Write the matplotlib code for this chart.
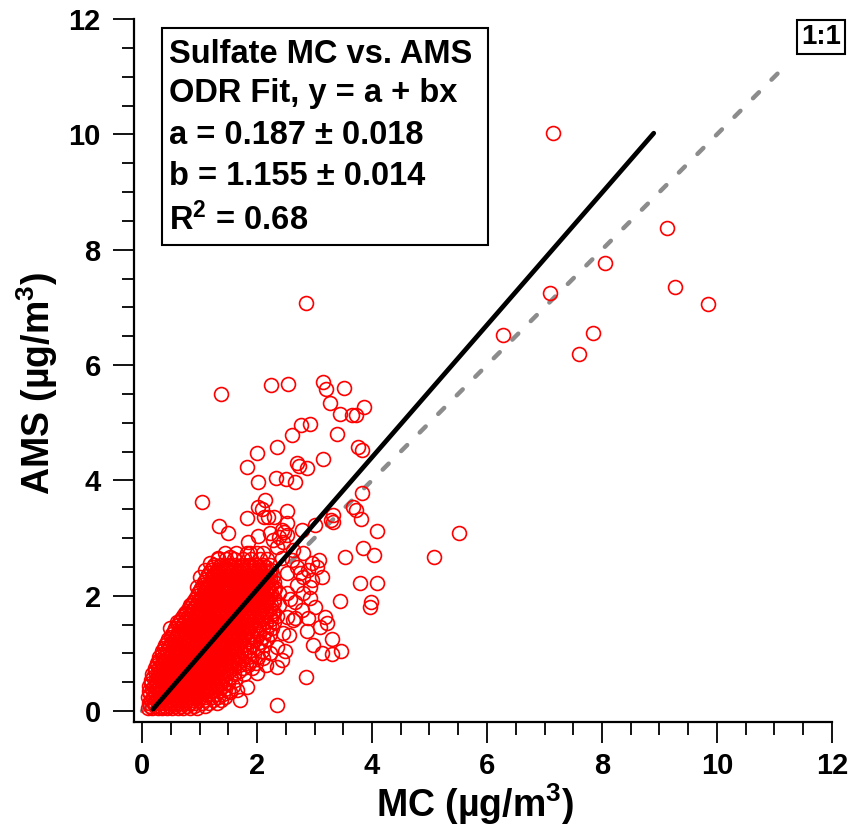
import matplotlib
matplotlib.use("Agg")
import matplotlib.pyplot as plt
from matplotlib.patches import Rectangle
from matplotlib.ticker import MultipleLocator

# dense core of the scatter, read row by row (AMS level -> MC values on that row)
CORE_AMS_ROWS = [0.05, 0.14, 0.24, 0.34, 0.44, 0.54, 0.64, 0.74, 0.84, 0.94,
                 1.04, 1.14, 1.24, 1.34, 1.44, 1.54, 1.64, 1.74, 1.84, 1.94,
                 2.04, 2.14, 2.24, 2.34, 2.44, 2.54, 2.64, 2.74]
CORE_MC_ROWS = [
    [0.10, 0.18, 0.27, 0.35, 0.44, 0.53, 0.62, 0.72, 0.83, 0.95],
    [0.12, 0.21, 0.30, 0.38, 0.47, 0.56, 0.65, 0.74, 0.84, 0.93, 1.04, 1.16, 1.30],
    [0.10, 0.19, 0.28, 0.37, 0.46, 0.55, 0.64, 0.73, 0.82, 0.91, 1.00, 1.10, 1.21, 1.33, 1.45],
    [0.13, 0.22, 0.31, 0.40, 0.49, 0.58, 0.67, 0.76, 0.85, 0.94, 1.03, 1.12, 1.22, 1.34, 1.50],
    [0.12, 0.20, 0.29, 0.38, 0.47, 0.56, 0.65, 0.74, 0.83, 0.92, 1.01, 1.10, 1.19, 1.28, 1.40, 1.58],
    [0.15, 0.24, 0.33, 0.42, 0.51, 0.60, 0.69, 0.78, 0.87, 0.96, 1.05, 1.14, 1.23, 1.32, 1.44, 1.62],
    [0.18, 0.27, 0.36, 0.45, 0.54, 0.63, 0.72, 0.81, 0.90, 0.99, 1.08, 1.17, 1.26, 1.35, 1.46, 1.60, 1.78],
    [0.22, 0.30, 0.39, 0.48, 0.57, 0.66, 0.75, 0.84, 0.93, 1.02, 1.11, 1.20, 1.29, 1.38, 1.48, 1.60, 1.75, 1.92],
    [0.26, 0.35, 0.44, 0.53, 0.62, 0.71, 0.80, 0.89, 0.98, 1.07, 1.16, 1.25, 1.34, 1.43, 1.53, 1.65, 1.80, 1.98],
    [0.30, 0.39, 0.48, 0.57, 0.66, 0.75, 0.84, 0.93, 1.02, 1.11, 1.20, 1.29, 1.38, 1.47, 1.57, 1.69, 1.84, 2.02],
    [0.34, 0.43, 0.52, 0.61, 0.70, 0.79, 0.88, 0.97, 1.06, 1.15, 1.24, 1.33, 1.42, 1.51, 1.61, 1.72, 1.86, 2.08],
    [0.40, 0.49, 0.58, 0.67, 0.76, 0.85, 0.94, 1.03, 1.12, 1.21, 1.30, 1.39, 1.48, 1.57, 1.67, 1.78, 1.92, 2.12],
    [0.46, 0.55, 0.64, 0.73, 0.82, 0.91, 1.00, 1.09, 1.18, 1.27, 1.36, 1.45, 1.54, 1.63, 1.73, 1.84, 1.98, 2.18],
    [0.52, 0.61, 0.70, 0.79, 0.88, 0.97, 1.06, 1.15, 1.24, 1.33, 1.42, 1.51, 1.60, 1.69, 1.79, 1.90, 2.04, 2.22],
    [0.58, 0.67, 0.76, 0.85, 0.94, 1.03, 1.12, 1.21, 1.30, 1.39, 1.48, 1.57, 1.66, 1.75, 1.85, 1.96, 2.10, 2.26],
    [0.64, 0.73, 0.82, 0.91, 1.00, 1.09, 1.18, 1.27, 1.36, 1.45, 1.54, 1.63, 1.72, 1.81, 1.91, 2.02, 2.16, 2.30],
    [0.72, 0.81, 0.90, 0.99, 1.08, 1.17, 1.26, 1.35, 1.44, 1.53, 1.62, 1.71, 1.80, 1.89, 1.99, 2.10, 2.22, 2.34],
    [0.78, 0.87, 0.96, 1.05, 1.14, 1.23, 1.32, 1.41, 1.50, 1.59, 1.68, 1.77, 1.86, 1.95, 2.05, 2.16, 2.28],
    [0.85, 0.94, 1.03, 1.12, 1.21, 1.30, 1.39, 1.48, 1.57, 1.66, 1.75, 1.84, 1.93, 2.02, 2.12, 2.24, 2.38],
    [0.92, 1.01, 1.10, 1.19, 1.28, 1.37, 1.46, 1.55, 1.64, 1.73, 1.82, 1.91, 2.00, 2.09, 2.19, 2.30],
    [0.98, 1.07, 1.16, 1.25, 1.34, 1.43, 1.52, 1.61, 1.70, 1.79, 1.88, 1.97, 2.06, 2.15, 2.25, 2.38],
    [1.03, 1.12, 1.21, 1.30, 1.39, 1.48, 1.57, 1.66, 1.75, 1.84, 1.93, 2.02, 2.11, 2.21, 2.32],
    [1.08, 1.18, 1.27, 1.36, 1.45, 1.54, 1.63, 1.72, 1.81, 1.90, 1.99, 2.08, 2.18, 2.30],
    [1.13, 1.24, 1.33, 1.42, 1.51, 1.60, 1.69, 1.78, 1.87, 1.96, 2.05, 2.15, 2.27],
    [1.20, 1.30, 1.40, 1.49, 1.58, 1.67, 1.76, 1.85, 1.94, 2.03, 2.13, 2.25],
    [1.26, 1.38, 1.50, 1.62, 1.74, 1.86, 1.98, 2.10, 2.22],
    [1.32, 1.46, 1.60, 1.75, 1.90, 2.05, 2.18],
    [1.45, 1.63, 1.82, 2.00],
]
# second pass over the core, between the rows above
CORE2_AMS_ROWS = [0.09, 0.19, 0.29, 0.39, 0.49, 0.59, 0.69, 0.79, 0.89, 0.99,
                  1.09, 1.19, 1.29, 1.39, 1.49, 1.59, 1.69, 1.79, 1.89, 1.99,
                  2.09, 2.19, 2.29, 2.39, 2.49]
CORE2_MC_ROWS = [
    [0.14, 0.23, 0.31, 0.40, 0.49, 0.58, 0.67, 0.78, 0.90, 1.10],
    [0.15, 0.24, 0.33, 0.42, 0.51, 0.60, 0.69, 0.78, 0.88, 0.98, 1.08, 1.24, 1.38],
    [0.14, 0.23, 0.32, 0.41, 0.50, 0.59, 0.68, 0.77, 0.86, 0.96, 1.06, 1.16, 1.28, 1.40],
    [0.17, 0.26, 0.35, 0.44, 0.53, 0.62, 0.71, 0.80, 0.89, 0.98, 1.07, 1.17, 1.29, 1.44],
    [0.16, 0.25, 0.34, 0.43, 0.52, 0.61, 0.70, 0.79, 0.88, 0.97, 1.06, 1.15, 1.24, 1.35, 1.50],
    [0.19, 0.28, 0.37, 0.46, 0.55, 0.64, 0.73, 0.82, 0.91, 1.00, 1.09, 1.18, 1.28, 1.38, 1.53],
    [0.22, 0.31, 0.40, 0.49, 0.58, 0.67, 0.76, 0.85, 0.94, 1.03, 1.12, 1.21, 1.30, 1.40, 1.52, 1.68],
    [0.26, 0.35, 0.44, 0.53, 0.62, 0.71, 0.80, 0.89, 0.98, 1.07, 1.16, 1.25, 1.34, 1.43, 1.54, 1.68, 1.84],
    [0.30, 0.39, 0.48, 0.57, 0.66, 0.75, 0.84, 0.93, 1.02, 1.11, 1.20, 1.29, 1.38, 1.48, 1.60, 1.72, 1.90],
    [0.34, 0.43, 0.52, 0.61, 0.70, 0.79, 0.88, 0.97, 1.06, 1.15, 1.24, 1.33, 1.42, 1.52, 1.64, 1.78, 1.95],
    [0.38, 0.47, 0.56, 0.65, 0.74, 0.83, 0.92, 1.01, 1.10, 1.19, 1.28, 1.37, 1.46, 1.56, 1.66, 1.80, 2.00],
    [0.44, 0.53, 0.62, 0.71, 0.80, 0.89, 0.98, 1.07, 1.16, 1.25, 1.34, 1.43, 1.52, 1.62, 1.72, 1.86, 2.05],
    [0.50, 0.59, 0.68, 0.77, 0.86, 0.95, 1.04, 1.13, 1.22, 1.31, 1.40, 1.49, 1.58, 1.68, 1.78, 1.92, 2.10],
    [0.56, 0.65, 0.74, 0.83, 0.92, 1.01, 1.10, 1.19, 1.28, 1.37, 1.46, 1.55, 1.64, 1.74, 1.84, 1.98, 2.15],
    [0.62, 0.71, 0.80, 0.89, 0.98, 1.07, 1.16, 1.25, 1.34, 1.43, 1.52, 1.61, 1.70, 1.80, 1.90, 2.04, 2.20],
    [0.68, 0.77, 0.86, 0.95, 1.04, 1.13, 1.22, 1.31, 1.40, 1.49, 1.58, 1.67, 1.76, 1.86, 1.96, 2.08, 2.24],
    [0.76, 0.85, 0.94, 1.03, 1.12, 1.21, 1.30, 1.39, 1.48, 1.57, 1.66, 1.75, 1.84, 1.94, 2.04, 2.15, 2.28],
    [0.82, 0.91, 1.00, 1.09, 1.18, 1.27, 1.36, 1.45, 1.54, 1.63, 1.72, 1.81, 1.90, 2.00, 2.10, 2.22],
    [0.89, 0.98, 1.07, 1.16, 1.25, 1.34, 1.43, 1.52, 1.61, 1.70, 1.79, 1.88, 1.97, 2.06, 2.16, 2.30],
    [0.95, 1.04, 1.13, 1.22, 1.31, 1.40, 1.49, 1.58, 1.67, 1.76, 1.85, 1.94, 2.03, 2.12, 2.22],
    [1.01, 1.10, 1.19, 1.28, 1.37, 1.46, 1.55, 1.64, 1.73, 1.82, 1.91, 2.00, 2.09, 2.19, 2.30],
    [1.06, 1.15, 1.24, 1.33, 1.42, 1.51, 1.60, 1.69, 1.78, 1.87, 1.96, 2.05, 2.14, 2.25],
    [1.11, 1.21, 1.30, 1.39, 1.48, 1.57, 1.66, 1.75, 1.84, 1.93, 2.02, 2.11, 2.22],
    [1.17, 1.27, 1.36, 1.45, 1.54, 1.63, 1.72, 1.81, 1.90, 1.99, 2.09, 2.20],
    [1.24, 1.34, 1.44, 1.54, 1.64, 1.74, 1.84, 1.94, 2.04, 2.16],
]

# loose points around the core (MC, AMS)
FRINGE_PTS = [
    (0.49, 1.44), (0.60, 1.55), (0.75, 1.70), (0.83, 1.84), (0.95, 2.15), (1.01, 2.32),
    (1.10, 2.45), (1.18, 2.57), (1.32, 2.65), (1.53, 2.67), (1.70, 2.50), (1.88, 2.74),
    (1.83, 0.42), (1.65, 0.36), (1.70, 0.19), (1.53, 0.33), (2.00, 0.66), (2.10, 0.92),
    (2.16, 0.80), (2.23, 1.01), (2.35, 0.76), (2.35, 1.11), (2.43, 0.88), (2.49, 1.04),
    (2.45, 1.35), (2.56, 1.32), (2.52, 1.63), (2.63, 1.58), (2.66, 1.61), (2.66, 1.89),
    (2.52, 2.05), (2.80, 2.05), (2.92, 2.15), (2.80, 2.32), (2.52, 2.39), (2.70, 2.50),
    (2.43, 2.65), (2.96, 2.57), (3.04, 2.50), (3.13, 2.32), (2.80, 2.74), (2.63, 2.79),
    (2.35, 2.84), (2.10, 2.74), (2.60, 2.62), (2.75, 2.40), (2.88, 2.45), (3.07, 2.62),
    (2.95, 2.28), (2.70, 2.18), (2.58, 1.95), (3.00, 1.80), (2.78, 1.75), (2.88, 1.62),
    (2.85, 0.59), (2.35, 0.10), (2.92, 1.96), (3.18, 1.63), (3.10, 1.46), (3.22, 1.53),
    (2.87, 1.39), (3.30, 1.25), (2.97, 1.14), (3.13, 1.00), (3.30, 0.99), (3.46, 1.04),
]
MID_PTS = [
    (3.44, 1.91), (3.98, 1.89), (3.97, 1.80), (3.79, 2.22), (4.09, 2.22), (3.53, 2.67),
    (3.84, 2.83), (4.03, 2.70), (5.08, 2.67), (5.51, 3.09), (4.09, 3.12), (3.81, 3.33),
    (3.67, 3.54), (3.72, 3.49), (3.83, 3.78), (3.29, 3.31), (3.01, 3.23), (2.78, 3.14),
    (3.32, 3.40), (3.32, 3.28), (1.04, 3.62), (1.34, 3.21), (1.50, 3.09), (1.83, 3.35),
    (2.02, 3.54), (2.14, 3.66), (2.19, 3.37), (2.52, 3.47), (2.52, 3.26), (2.43, 3.14),
    (2.23, 3.09), (2.02, 3.03), (1.84, 2.93), (2.09, 3.50), (2.38, 3.02), (2.12, 3.37),
    (2.29, 3.37), (2.47, 3.11), (2.28, 2.97), (2.45, 2.93), (2.53, 3.06),
]
HIGH_PTS = [
    (2.02, 3.97), (2.33, 4.04), (2.50, 4.02), (2.66, 3.97), (2.70, 4.30), (2.73, 4.25),
    (2.87, 4.21), (3.15, 4.37), (3.76, 4.58), (3.83, 4.53), (1.83, 4.23), (2.00, 4.47),
    (2.35, 4.58), (2.61, 4.79), (3.39, 4.80), (2.77, 4.96), (2.92, 4.98), (1.37, 5.50),
    (2.24, 5.65), (2.54, 5.67), (3.15, 5.71), (3.20, 5.58), (3.51, 5.60), (3.27, 5.34),
    (3.44, 5.15), (3.65, 5.13), (3.72, 5.13), (3.86, 5.27), (2.85, 7.08),
]
FAR_PTS = [
    (7.15, 10.02), (9.13, 8.38), (8.05, 7.77), (7.10, 7.25), (9.27, 7.35), (9.84, 7.06),
    (6.28, 6.52), (7.84, 6.55), (7.60, 6.19),
]

FIT_MC = [0.19, 8.90]
FIT_AMS = [0.03, 10.02]
ONE_TO_ONE = [0.0, 11.25]

BOX_LINES = ["Sulfate MC vs. AMS", "ODR Fit, y = a + bx", "a = 0.187 \u00b1 0.018",
             "b = 1.155 \u00b1 0.014", "R$^{2}$ = 0.68"]
BOX_BASELINES = [11.24, 10.56, 9.83, 9.12, 8.34]

plt.rcParams["font.family"] = "Liberation Sans"
plt.rcParams["font.weight"] = "bold"
plt.rcParams["mathtext.fontset"] = "custom"
plt.rcParams["mathtext.rm"] = "Liberation Sans:bold"
plt.rcParams["mathtext.it"] = "Liberation Sans:bold"
plt.rcParams["mathtext.bf"] = "Liberation Sans:bold"

mc, ams = [], []
for rows_y, rows_x in ((CORE_AMS_ROWS, CORE_MC_ROWS), (CORE2_AMS_ROWS, CORE2_MC_ROWS)):
    for y, xs in zip(rows_y, rows_x):
        mc += xs
        ams += [y] * len(xs)
for group in (FRINGE_PTS, MID_PTS, HIGH_PTS, FAR_PTS):
    mc += [p[0] for p in group]
    ams += [p[1] for p in group]

fig = plt.figure(figsize=(8.52, 8.30), dpi=100)
ax = fig.add_axes([134 / 852, 1 - 722 / 830, (832 - 134) / 852, (722 - 19) / 830])
ax.set_xlim(-8 / 57.5, 12)
ax.set_ylim(-11 / 57.67, 12)

ax.plot(ONE_TO_ONE, ONE_TO_ONE, color="#8c8c8c", lw=3.2, dashes=(1.9, 4.0),
        dash_capstyle="round", zorder=2)
ax.plot(mc, ams, "o", ms=10, mfc="none", mec="red", mew=1.2, zorder=3)
ax.plot(FIT_MC, FIT_AMS, color="black", lw=3.4, solid_capstyle="round", zorder=4)

for s in ("top", "right"):
    ax.spines[s].set_visible(False)
for s in ("left", "bottom"):
    ax.spines[s].set_linewidth(1.6)
ax.xaxis.set_major_locator(MultipleLocator(2))
ax.xaxis.set_minor_locator(MultipleLocator(0.5))
ax.yaxis.set_major_locator(MultipleLocator(2))
ax.yaxis.set_minor_locator(MultipleLocator(0.5))
ax.tick_params(which="major", direction="out", length=15, width=1.3, labelsize=21)
ax.tick_params(axis="x", which="major", pad=6.5)
ax.tick_params(axis="y", which="major", pad=9)
ax.tick_params(which="minor", direction="out", length=9, width=1.3)
ax.set_xlabel("MC (\u00b5g/m$^{3}$)", fontsize=27, fontweight="bold")
ax.set_ylabel("AMS (\u00b5g/m$^{3}$)", fontsize=27, fontweight="bold")
ax.xaxis.set_label_coords(0.4885, -0.085)
ax.yaxis.set_label_coords(-0.106, 0.482)

ax.add_patch(Rectangle((0.348, 8.08), 5.67, 3.76, fill=False, lw=1.5, ec="black",
                       zorder=5, clip_on=False))
for line, yb in zip(BOX_LINES, BOX_BASELINES):
    ax.text(0.47, yb, line, fontsize=23.5, fontweight="bold", va="baseline", ha="left", zorder=6)

ax.text(11.81, 11.69, "1:1", fontsize=20, fontweight="bold", ha="center", va="center",
        clip_on=False, zorder=6,
        bbox=dict(boxstyle="square,pad=0.15", fc="white", ec="black", lw=1.5))

fig.savefig("out.png", dpi=100)
